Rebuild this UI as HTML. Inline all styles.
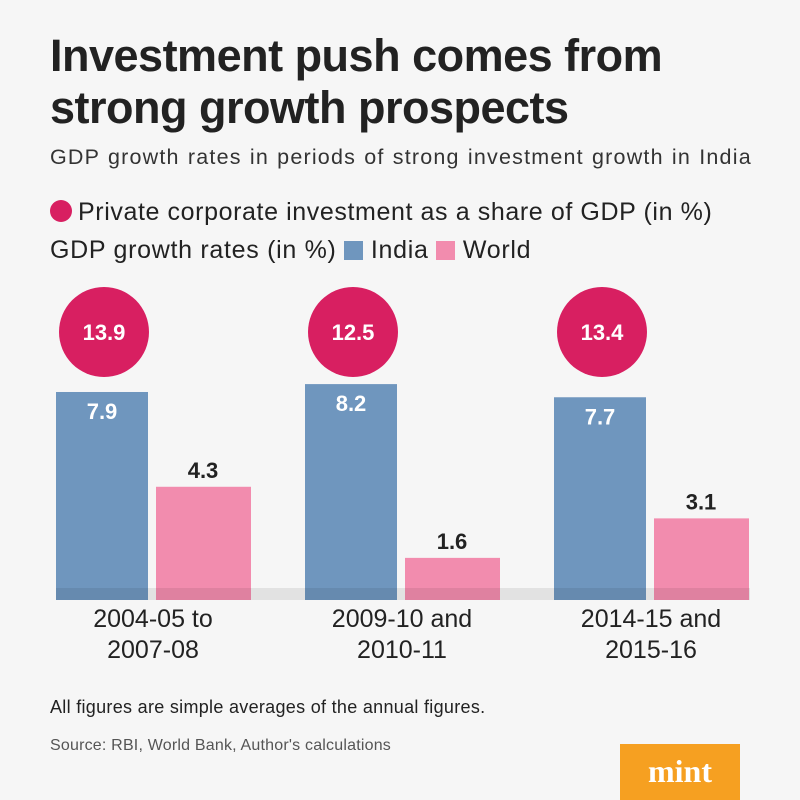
<!DOCTYPE html>
<html><head><meta charset="utf-8"><style>
body{margin:0;background:#f6f6f6;}
#c{position:relative;width:800px;height:800px;background:#f6f6f6;font-family:"Liberation Sans",sans-serif;color:#222;overflow:hidden}
.t{position:absolute;left:50px;font-weight:bold;font-size:45px;letter-spacing:-0.5px;color:#222;line-height:52px}
</style></head><body>
<div id="c">
<div class="t" style="top:30px">Investment push comes from<br>strong growth prospects</div>
<div style="position:absolute;left:50px;top:145px;font-size:21.5px;letter-spacing:1.2px;word-spacing:1px;color:#333;white-space:nowrap">GDP growth rates in periods of strong investment growth in India</div>
<div style="position:absolute;left:50px;top:198px;font-size:25px;letter-spacing:0.6px;color:#222;white-space:nowrap"><span style="display:inline-block;width:22px;height:22px;border-radius:50%;background:#d81f61;vertical-align:-2px;margin-right:6px"></span>Private corporate investment as a share of GDP (in %)</div>
<div style="position:absolute;left:50px;top:236px;font-size:25px;letter-spacing:0.7px;color:#222;white-space:nowrap">GDP growth rates (in %) <span style="display:inline-block;width:19px;height:19px;background:#6f96be;vertical-align:-2px"></span> India <span style="display:inline-block;width:19px;height:19px;background:#f28cae;vertical-align:-2px"></span> World</div>
<svg id="s" width="800" height="800" style="position:absolute;left:0;top:0"></svg>
<div style="position:absolute;left:50px;top:697px;font-size:18px;letter-spacing:0.3px;color:#222;white-space:nowrap">All figures are simple averages of the annual figures.</div>
<div style="position:absolute;left:50px;top:737px;font-size:16px;letter-spacing:0.2px;color:#555;white-space:nowrap">Source: RBI, World Bank, Author's calculations</div>
<div style="position:absolute;left:620px;top:744px;width:120px;height:56px;background:#f6a021;color:#fff;font-family:'Liberation Serif',serif;font-weight:bold;font-size:32px;text-align:center;line-height:54px">mint</div>
</div>
<script>
const categories=["2004-05 to|2007-08","2009-10 and|2010-11","2014-15 and|2015-16"];
const india=[7.9,8.2,7.7];
const world=[4.3,1.6,3.1];
const investment=[13.9,12.5,13.4];
const NS="http://www.w3.org/2000/svg";
const s=document.getElementById('s');
const base=600,k=26.33;
const y=v=>base-v*k;
const gx=i=>56+i*249;
function el(t,a){const e=document.createElementNS(NS,t);for(const n in a)e.setAttribute(n,a[n]);s.appendChild(e);return e;}
function txt(x,yy,str,sz,fill,w){const e=el('text',{x:x,y:yy,'text-anchor':'middle','font-size':sz,fill:fill,'font-weight':w||'normal','font-family':'Liberation Sans, sans-serif'});e.textContent=str;return e;}
categories.forEach((c,i)=>{
 const x0=gx(i);
 let r=el('rect',{x:x0,y:y(india[i]),width:92,height:india[i]*k,fill:'#6f96be'});
 
 
 let t=txt(x0+46,y(india[i])+27,india[i].toFixed(1),22,'#fff','bold');
 
 
 let w=el('rect',{x:x0+100,y:y(world[i]),width:95,height:world[i]*k,fill:'#f28cae'});
 
 
 let tw=txt(x0+147,y(world[i])-9,world[i].toFixed(1),22,'#222','bold');
 
 
 let ci=el('circle',{cx:x0+48,cy:332,r:45,fill:'#d81f61'});
 
 
 let ct=txt(x0+48,340,investment[i].toFixed(1),22,'#fff','bold');
 
 
 const parts=c.split('|');
 parts.forEach((p,j)=>{let l=txt(x0+97,627+j*31,p,25,'#222');
  
  });
});
let sh=el('rect',{x:56,y:588,width:694,height:12,fill:'rgba(0,0,0,0.08)'});


</script>
</body></html>
